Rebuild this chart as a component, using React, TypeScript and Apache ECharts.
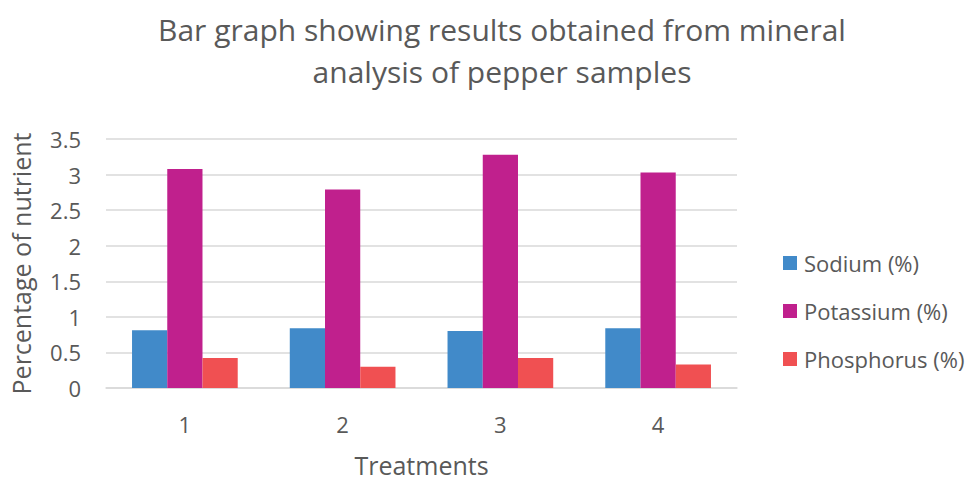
import React, { useEffect, useRef } from "react";
import * as echarts from "echarts";

const categories = ["1", "2", "3", "4"];
const sodium = [0.81, 0.84, 0.8, 0.84];
const potassium = [3.08, 2.79, 3.28, 3.03];
const phosphorus = [0.42, 0.3, 0.42, 0.33];
const seriesNames = ["Sodium (%)", "Potassium (%)", "Phosphorus (%)"];
const colors = ["#418AC9", "#C0208D", "#F05052"];

const FONT = "'Open Sans', sans-serif";
const GRAY = "#595959";

export default function App() {
  const ref = useRef<HTMLDivElement>(null);
  useEffect(() => {
    if (!ref.current) return;
    const chart = echarts.init(ref.current, null, { renderer: "svg" });
    const values = [sodium, potassium, phosphorus];
    chart.setOption({
      animation: false,
      backgroundColor: "#ffffff",
      textStyle: { fontFamily: FONT, color: GRAY },
      title: {
        text: "Bar graph showing results obtained from mineral\nanalysis of pepper samples",
        left: 497,
        top: 3,
        textAlign: "center",
        textStyle: {
          fontFamily: FONT,
          fontSize: 30,
          fontWeight: "normal",
          color: GRAY,
          lineHeight: 42,
        },
      },
      legend: {
        orient: "vertical",
        left: 778,
        top: 247,
        itemWidth: 14,
        itemHeight: 14,
        itemGap: 26,
        icon: "rect",
        data: seriesNames,
        textStyle: { fontFamily: FONT, fontSize: 22, color: GRAY, padding: [0, 0, 0, 2] },
      },
      grid: {
        left: 106,
        right: 239,
        top: 139,
        bottom: 93,
        containLabel: false,
        outerBoundsMode: "none",
      },
      xAxis: {
        type: "category",
        data: categories,
        name: "Treatments",
        nameLocation: "middle",
        nameGap: 64,
        nameTextStyle: { fontFamily: FONT, fontSize: 25, color: GRAY },
        axisLine: { show: true, lineStyle: { color: "#d9d9d9", width: 1.5 } },
        axisTick: { show: false },
        axisLabel: { fontFamily: FONT, fontSize: 22, color: GRAY, margin: 25 },
      },
      yAxis: {
        type: "value",
        min: 0,
        max: 3.5,
        interval: 0.5,
        name: "Percentage of nutrient",
        nameLocation: "middle",
        nameGap: 73,
        nameRotate: 90,
        nameTextStyle: { fontFamily: FONT, fontSize: 25, color: GRAY },
        axisLine: { show: false },
        axisTick: { show: false },
        axisLabel: { fontFamily: FONT, fontSize: 22, color: GRAY, margin: 25 },
        splitLine: { lineStyle: { color: "#d9d9d9", width: 1.5 } },
      },
      series: seriesNames.map((name, i) => ({
        name,
        type: "bar",
        data: values[i],
        barGap: "0%",
        barCategoryGap: "33%",
        itemStyle: { color: colors[i] },
      })),
    });
    return () => chart.dispose();
  }, []);
  return (
    <div
      ref={ref}
      style={{ position: "absolute", left: 0, top: 0, width: 976, height: 481 }}
    />
  );
}
